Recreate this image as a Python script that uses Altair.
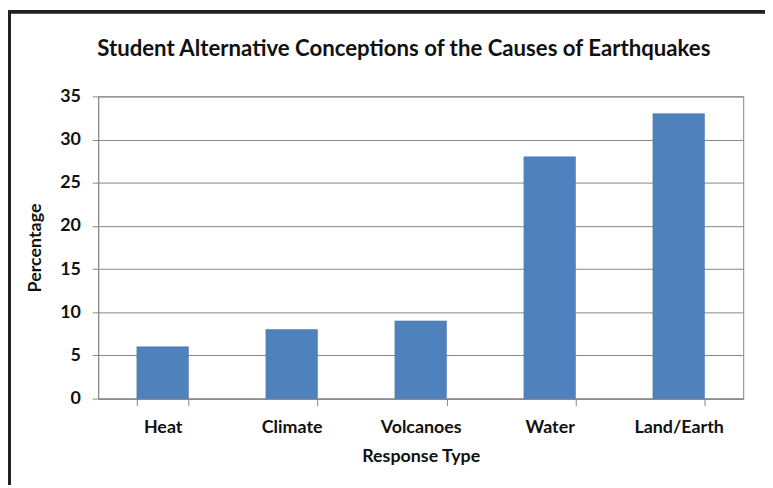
import altair as alt
import pandas as pd

categories = ["Heat", "Climate", "Volcanoes", "Water", "Land/Earth"]
values = [6, 8, 9, 28, 33]

df = pd.DataFrame({"Response Type": categories, "Percentage": values})

FONT = "Lato"

bars = alt.Chart(df).mark_bar(color="#4f81bd", stroke="#4573a8", strokeWidth=0.5).encode(
    x=alt.X("Response Type:N", sort=categories,
            scale=alt.Scale(paddingInner=0.6, paddingOuter=0.3),
            axis=alt.Axis(title="Response Type", labelAngle=0, tickBand="extent",
                          tickSize=7, labelPadding=13, titlePadding=11)),
    y=alt.Y("Percentage:Q", scale=alt.Scale(domain=[0, 35], nice=False),
            axis=alt.Axis(title="Percentage", values=[0, 5, 10, 15, 20, 25, 30, 35],
                          tickSize=6, labelPadding=12, titlePadding=15)),
)

border = alt.Chart(df).mark_rect(fill=None, stroke="#222222", strokeWidth=3, clip=False).encode(
    x=alt.value(-89.5), x2=alt.value(720), y=alt.value(-85.5), y2=alt.value(440)
)

chart = alt.layer(border, bars).properties(
    width=651, height=305,
    title=alt.TitleParams("Student Alternative Conceptions of the Causes of Earthquakes",
                          font=FONT, fontSize=22.4, fontWeight="bold", color="#111111",
                          anchor="middle", dx=-17, offset=-50.5),
    autosize=alt.AutoSizeParams(type="none"),
    padding={"left": 91, "top": 87, "right": 22, "bottom": 85},
    background="white",
).configure_axis(
    labelFont=FONT, labelFontSize=18, labelFontWeight="bold", labelColor="#111111",
    titleFont=FONT, titleFontSize=18, titleFontWeight="bold", titleColor="#111111",
    domainColor="#868686", tickColor="#868686", gridColor="#868686", gridWidth=1,
).configure_axisX(grid=False).configure_view(stroke="#868686", strokeWidth=1)

chart.save("out.html", embed_options={"renderer": "svg", "actions": False})
